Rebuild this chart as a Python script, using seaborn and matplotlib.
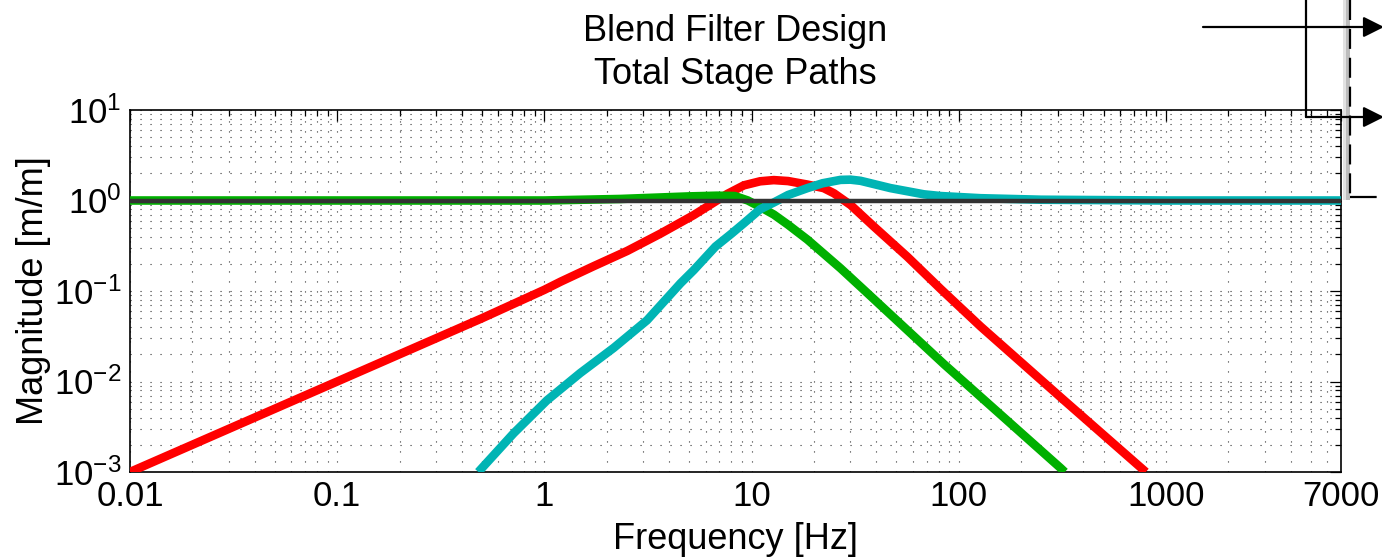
import numpy as np
import pandas as pd
import matplotlib
matplotlib.use("Agg")
import matplotlib.pyplot as plt
import seaborn as sns
from matplotlib.lines import Line2D
from matplotlib.patches import Rectangle, FancyArrowPatch
from matplotlib.ticker import FixedLocator, FixedFormatter, LogLocator, NullFormatter

# ---------------- data ----------------
red_f = [0.01, 0.1, 0.5, 1.0, 1.2, 1.73, 2.51, 3.63, 5.26, 6.33, 7.63, 9.18, 11.0, 12.8, 15.0,
         18.6, 22.3, 25.0, 30.1, 39.0, 56.5, 81.9, 127.6, 321.0, 800.0]
red_m = [0.001, 0.01, 0.05, 0.103, 0.127, 0.188, 0.277, 0.43, 0.69, 0.90, 1.18, 1.47, 1.63, 1.68, 1.64,
         1.50, 1.37, 1.20, 0.89, 0.514, 0.239, 0.105, 0.0405, 0.00625, 0.001]

green_f = [0.01, 0.1, 1.0, 2.33, 3.63, 5.0, 6.8, 8.3, 9.6, 11.0, 12.8, 15.0, 18.6, 26.9, 36.2, 85.0, 311.0, 325.0]
green_m = [1.0, 1.0, 1.0, 1.04, 1.08, 1.11, 1.13, 1.12, 1.0, 0.85, 0.70, 0.54, 0.37, 0.178, 0.095, 0.0155, 0.0011, 0.001]

cyan_f = [0.48, 0.711, 1.03, 1.49, 2.16, 3.13, 4.54, 5.26, 6.7, 8.0, 9.18, 11.0, 12.8, 15.0, 18.6, 22.0,
          26.9, 30.0, 33.6, 46.9, 67.9, 81.9, 127.6, 250.0, 1000.0, 7000.0]
cyan_m = [0.001, 0.00268, 0.0062, 0.0124, 0.0235, 0.0475, 0.1216, 0.17, 0.31, 0.43, 0.56, 0.80, 0.95, 1.15, 1.37, 1.55,
          1.69, 1.70, 1.65, 1.37, 1.17, 1.12, 1.06, 1.02, 1.0, 1.0]

unity_f = [0.01, 7000.0]
unity_m = [1.0, 1.0]

xtick_vals = [0.01, 0.1, 1, 10, 100, 1000, 7000]
xtick_labels = ["0.01", "0.1", "1", "10", "100", "1000", "7000"]
ytick_vals = [1e-3, 1e-2, 1e-1, 1e0, 1e1]
ytick_labels = [r"$10^{-3}$", r"$10^{-2}$", r"$10^{-1}$", r"$10^{0}$", r"$10^{1}$"]

title_text = "Blend Filter Design\nTotal Stage Paths"
xlabel_text = "Frequency [Hz]"
ylabel_text = "Magnitude [m/m]"

# ---------------- style ----------------
sns.set_style("white")
plt.rcParams["font.family"] = ["Liberation Sans", "DejaVu Sans"]
plt.rcParams["mathtext.fontset"] = "custom"
plt.rcParams["mathtext.rm"] = "Liberation Sans"
plt.rcParams["mathtext.it"] = "Liberation Sans"
plt.rcParams["mathtext.default"] = "regular"
plt.rcParams["axes.unicode_minus"] = True
plt.rcParams["text.color"] = "black"
plt.rcParams["axes.labelcolor"] = "black"
plt.rcParams["xtick.color"] = "black"
plt.rcParams["ytick.color"] = "black"

W, H = 1382, 557
fig = plt.figure(figsize=(W / 100, H / 100), dpi=100)
fig.patch.set_facecolor("white")
ax = fig.add_axes([130 / W, 1 - 472 / H, (1341 - 130) / W, (472 - 110) / H])

df_red = pd.DataFrame({"f": red_f, "m": red_m})
df_green = pd.DataFrame({"f": green_f, "m": green_m})
df_cyan = pd.DataFrame({"f": cyan_f, "m": cyan_m})
df_unity = pd.DataFrame({"f": unity_f, "m": unity_m})

lw = 6.2
common = dict(ax=ax, lw=lw, sort=False, estimator=None, solid_capstyle="butt", solid_joinstyle="round")
sns.lineplot(data=df_red, x="f", y="m", color="#ff0000", zorder=3, **common)
sns.lineplot(data=df_green, x="f", y="m", color="#00b000", zorder=3, **common)
sns.lineplot(data=df_cyan, x="f", y="m", color="#00b4b4", zorder=3, **common)
sns.lineplot(data=df_unity, x="f", y="m", ax=ax, color="#333333", lw=3.2, sort=False, estimator=None, zorder=4)

ax.set_xscale("log")
ax.set_yscale("log")
ax.set_xlim(0.01, 7000)
ax.set_ylim(1e-3, 1e1)

ax.xaxis.set_major_locator(FixedLocator(xtick_vals))
ax.xaxis.set_major_formatter(FixedFormatter(xtick_labels))
ax.xaxis.set_minor_locator(LogLocator(base=10, subs=np.arange(2, 10), numticks=20))
ax.xaxis.set_minor_formatter(NullFormatter())
ax.yaxis.set_major_locator(FixedLocator(ytick_vals))
ax.yaxis.set_major_formatter(FixedFormatter(ytick_labels))
ax.yaxis.set_minor_locator(LogLocator(base=10, subs=np.arange(2, 10), numticks=20))
ax.yaxis.set_minor_formatter(NullFormatter())

ax.tick_params(which="both", direction="in", top=True, right=True, colors="black", width=0.9)
ax.tick_params(which="major", length=8, labelsize=25, pad=6)
ax.tick_params(which="minor", length=4)

ax.grid(True, which="both", color="#333333", linestyle=(0, (1, 8)), linewidth=0.8)
for s in ax.spines.values():
    s.set_linewidth(1.2)
    s.set_color("black")

ax.set_title(title_text, fontsize=26, pad=19, linespacing=1.30, color="black")
ax.set_xlabel(xlabel_text, fontsize=26, labelpad=6)
ax.set_ylabel(ylabel_text, fontsize=26, labelpad=2)
if ax.legend_ is not None:
    ax.legend_.remove()


# ---------------- partial legend/diagram at top right ----------------
def fx(px):
    return px / W


def fy(py):
    return 1 - py / H


fig.add_artist(Rectangle((fx(1343), fy(200)), (1350 - 1343) / W, 200 / H,
                         transform=fig.transFigure, facecolor="#e2e2e2", edgecolor="none", zorder=5))
fig.add_artist(Rectangle((fx(1346), fy(200)), (1350 - 1346) / W, 200 / H,
                         transform=fig.transFigure, facecolor="#bdbdbd", edgecolor="none", zorder=5))
fig.add_artist(Rectangle((fx(1350), fy(197)), (1382 - 1350) / W, 197 / H,
                         transform=fig.transFigure, facecolor="white", edgecolor="none", zorder=5))
fig.add_artist(Line2D([fx(1350), fx(1350)], [fy(0), fy(197)], transform=fig.transFigure,
                      color="black", lw=1.6, linestyle=(0, (9, 4)), zorder=6))
fig.add_artist(Line2D([fx(1350), fx(1382)], [fy(197), fy(197)], transform=fig.transFigure,
                      color="black", lw=1.6, linestyle=(0, (12, 4)), zorder=6))
fig.add_artist(Line2D([fx(1306), fx(1306)], [fy(0), fy(117)], transform=fig.transFigure,
                      color="black", lw=1.6, zorder=6))
for x0, yv in [(1203, 27), (1306, 117)]:
    fig.add_artist(FancyArrowPatch((fx(x0), fy(yv)), (fx(1384), fy(yv)), transform=fig.transFigure,
                                   arrowstyle="-|>,head_length=0.9,head_width=0.45", mutation_scale=14,
                                   color="black", lw=1.6, shrinkA=0, shrinkB=0, zorder=7))

fig.savefig("out.png", dpi=100, facecolor="white")
